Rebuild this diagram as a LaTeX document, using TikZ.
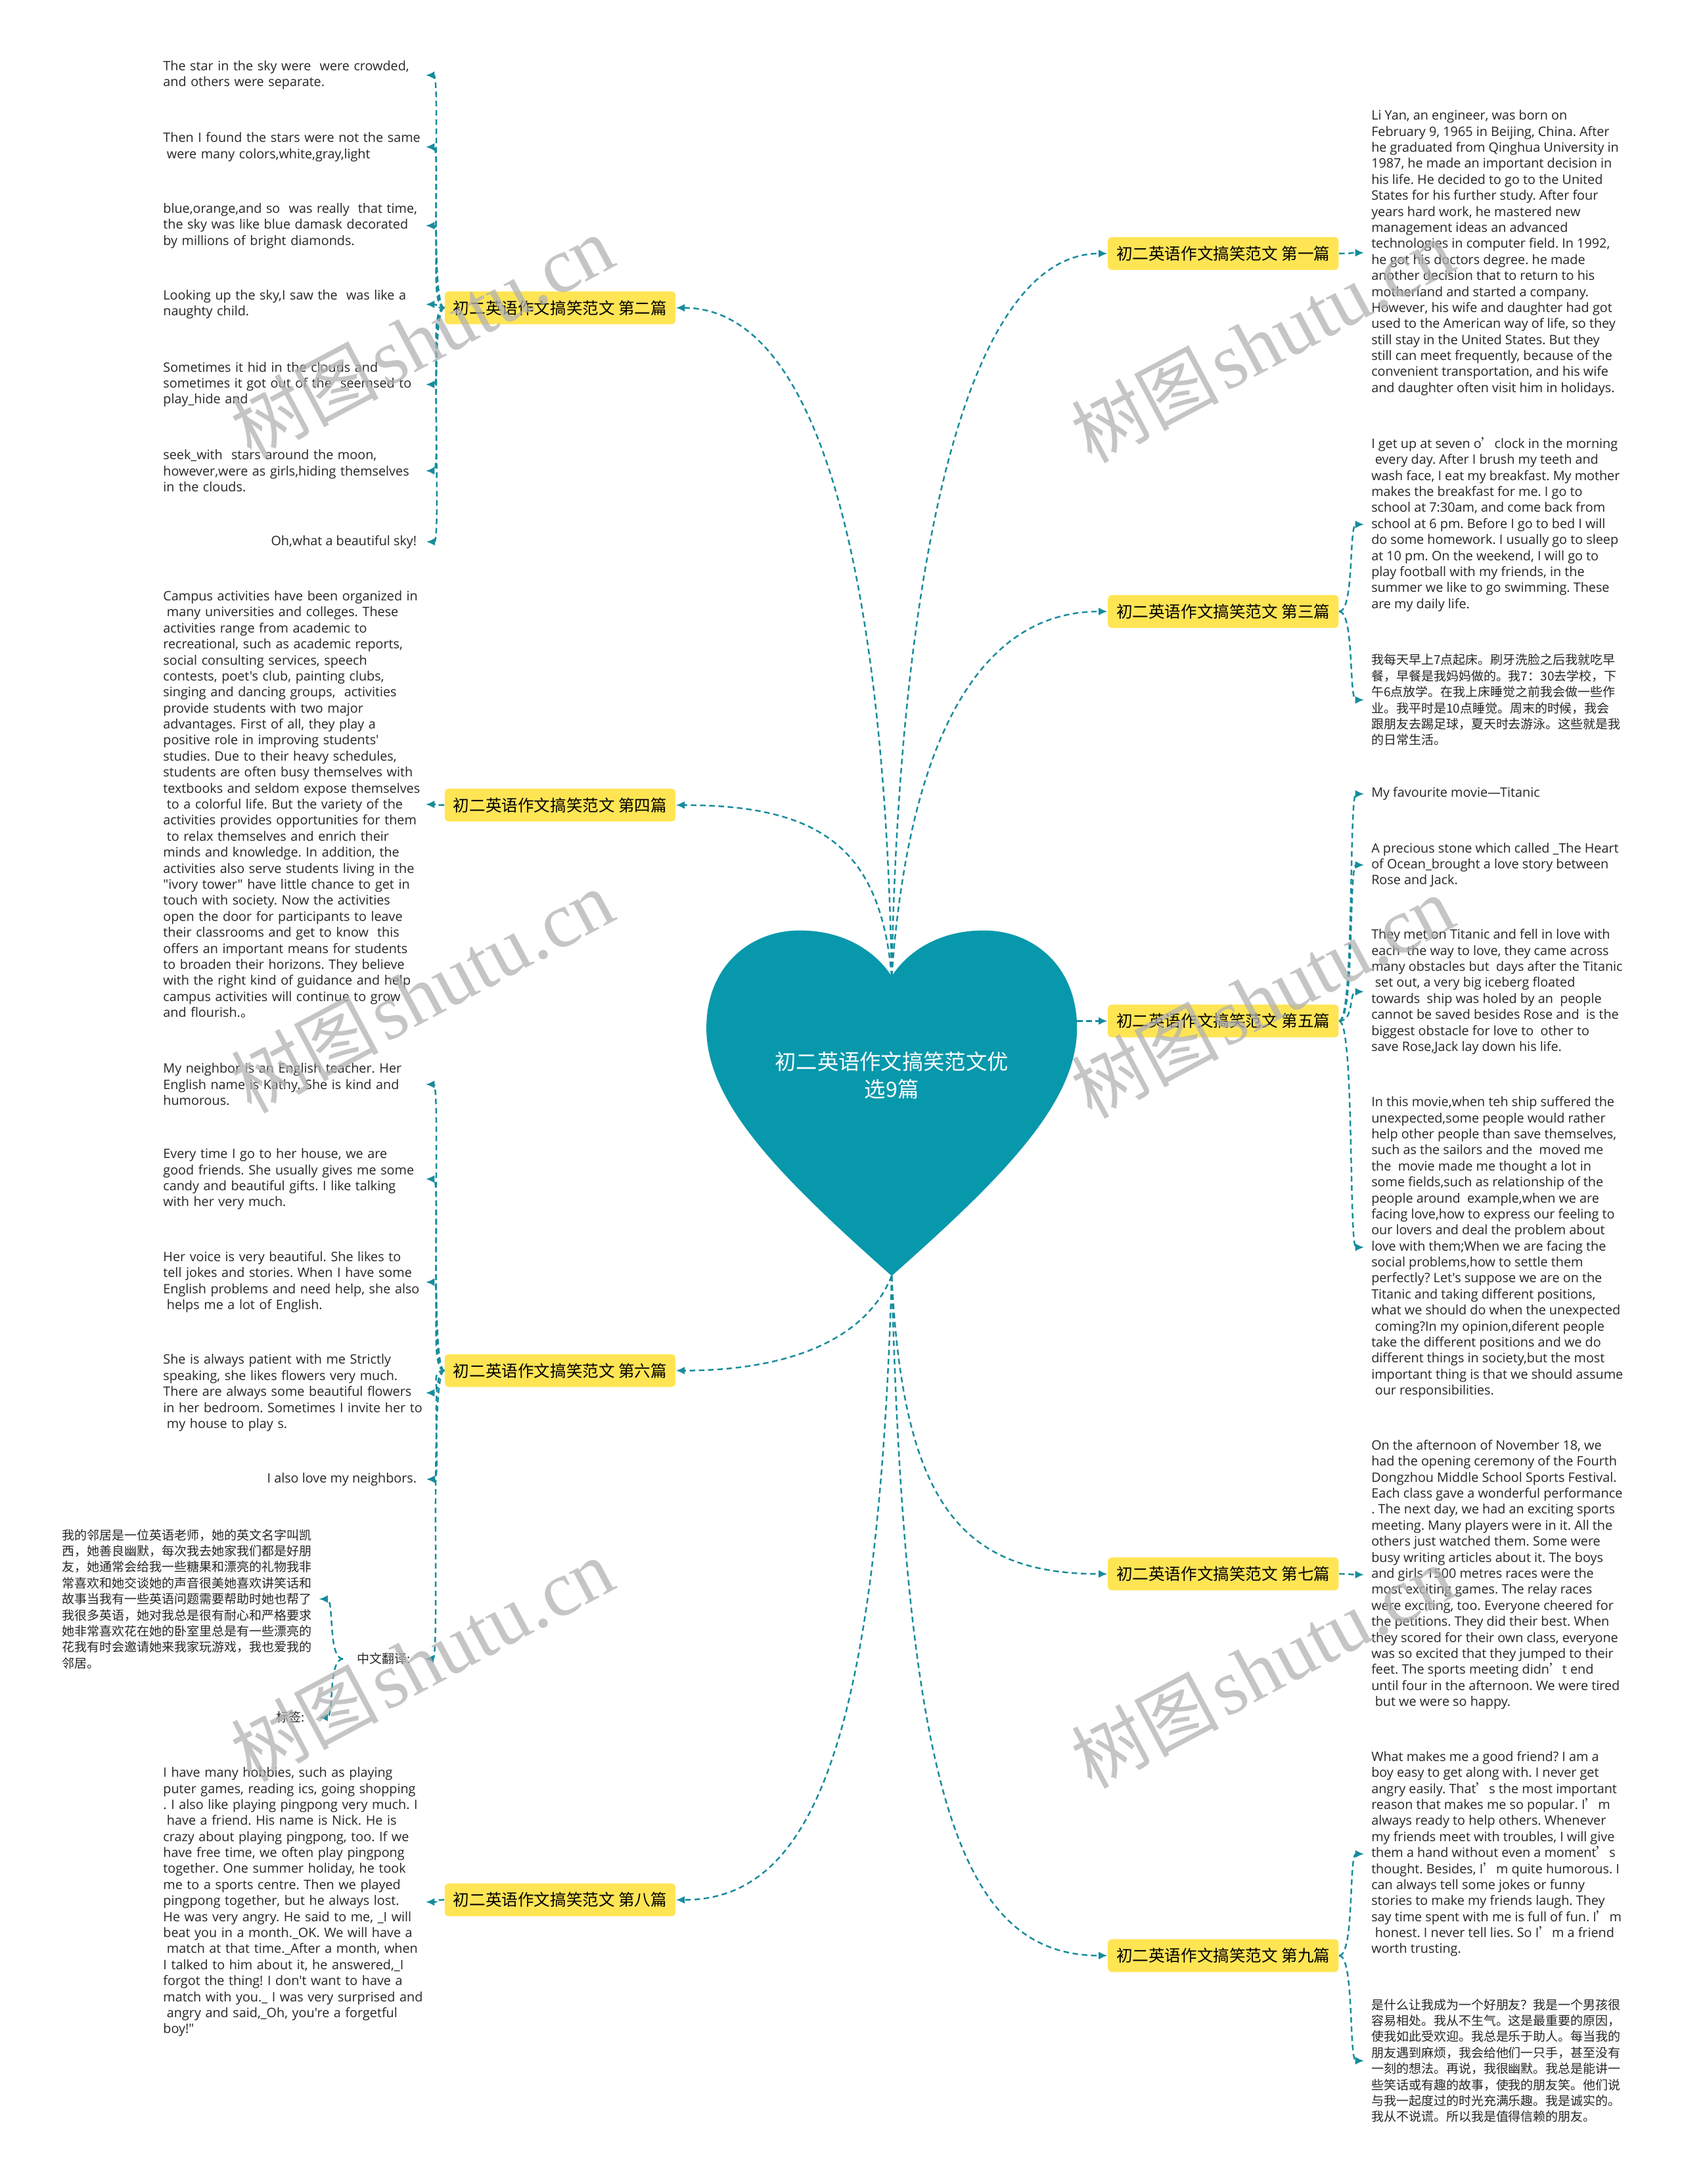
\documentclass[tikz,border=0pt]{standalone}
\usepackage{fontspec}
\setmainfont{Noto Sans CJK SC}
\newfontfamily\en{Open Sans}
\newfontfamily\cjk{Noto Sans CJK SC}
\newfontfamily\wmf{Liberation Serif}
\usetikzlibrary{arrows.meta}
\definecolor{heartc}{RGB}{7,152,172}
\definecolor{lc}{RGB}{22,140,156}
\definecolor{yel}{RGB}{255,229,84}
\newcommand\ls{\hspace*{0.28em}}
\newcommand\apo{{\cjk ’}}
\begin{document}
\frenchspacing
\begin{tikzpicture}[x=0.02121cm, y=-0.02121cm,
  conn/.style={draw=lc, line width=0.7pt, dash pattern=on 2.4pt off 1.6pt, -{Latex[length=3.8pt,width=3.4pt]}},
  branch/.style={fill=yel, rounded corners=1.6pt, font=\fontsize{7pt}{8pt}\selectfont, inner xsep=0.13cm, minimum height=0.5cm, text=black},
  enR/.style={font=\en\fontsize{5.63pt}{6.94pt}\selectfont\frenchspacing, align=left, inner xsep=3pt, inner ysep=0pt, anchor=west, text=black!85},
  enL/.style={enR, anchor=east},
  enLw/.style={enR, anchor=east, text width=3.99cm, inner xsep=0pt},
  zhL/.style={font=\cjk\fontsize{5.4pt}{6.94pt}\selectfont, align=left, inner xsep=3pt, inner ysep=0pt, anchor=east, text=black!85},
  zhR/.style={zhL, anchor=west},
  wm/.style={rotate=28, text=black!30, opacity=0.75, inner sep=0pt}]
\useasboundingbox[fill=white] (0,0) rectangle (1207,1568);

% heart anchor points
\coordinate (ht) at (640,701);
\coordinate (hb) at (640,916);
\coordinate (hr) at (773,733);

% branches
\node[branch] (b1) at (878,182) {初二英语作文搞笑范文 第一篇};
\node[branch] (b2) at (402,221) {初二英语作文搞笑范文 第二篇};
\node[branch] (b3) at (878,439) {初二英语作文搞笑范文 第三篇};
\node[branch] (b4) at (402,578) {初二英语作文搞笑范文 第四篇};
\node[branch] (b5) at (878,733) {初二英语作文搞笑范文 第五篇};
\node[branch] (b6) at (402,984) {初二英语作文搞笑范文 第六篇};
\node[branch] (b7) at (878,1130) {初二英语作文搞笑范文 第七篇};
\node[branch] (b8) at (402,1364) {初二英语作文搞笑范文 第八篇};
\node[branch] (b9) at (878,1404) {初二英语作文搞笑范文 第九篇};

% heart to branches
\draw[conn] (ht) .. controls (645,420) and (690,182) .. (b1.west);
\draw[conn] (ht) .. controls (635,420) and (590,221) .. (b2.east);
\draw[conn] (ht) .. controls (650,560) and (690,439) .. (b3.west);
\draw[conn] (ht) .. controls (632,610) and (590,578) .. (b4.east);
\draw[conn] (hr) -- (b5.west);
\draw[conn] (hb) .. controls (620,965) and (560,984) .. (b6.east);
\draw[conn] (hb) .. controls (648,1080) and (690,1130) .. (b7.west);
\draw[conn] (hb) .. controls (630,1260) and (580,1364) .. (b8.east);
\draw[conn] (hb) .. controls (650,1290) and (690,1404) .. (b9.west);

% heart
\fill[heartc] (640,916) .. controls (560,845) and (507,792) .. (507,738)
 .. controls (507,694) and (538,668) .. (574,668)
 .. controls (608,668) and (630,685) .. (640,701)
 .. controls (650,685) and (672,668) .. (706,668)
 .. controls (742,668) and (773,694) .. (773,738)
 .. controls (773,792) and (720,845) .. (640,916) -- cycle;
\node[text=white, align=center, font=\fontsize{9.2pt}{12pt}\selectfont] (title) at (640,772) {初二英语作文搞笑范文优\\选9篇};

% ---------- right leaves ----------
\node[enR] (r1) at (979,181.5) {Li Yan, an engineer, was born on\\
February 9, 1965 in Beijing, China. After\\
he graduated from Qinghua University in\\
1987, he made an important decision in\\
his life. He decided to go to the United\\
States for his further study. After four\\
years hard work, he mastered new\\
management ideas an advanced\\
technologies in computer field. In 1992,\\
he got his doctors degree. he made\\
another decision that to return to his\\
motherland and started a company.\\
However, his wife and daughter had got\\
used to the American way of life, so they\\
still stay in the United States. But they\\
still can meet frequently, because of the\\
convenient transportation, and his wife\\
and daughter often visit him in holidays.};

\node[enR] (r3a) at (979,376.5) {I get up at seven o\apo clock in the morning\\
\ls every day. After I brush my teeth and\\
wash face, I eat my breakfast. My mother\\
makes the breakfast for me. I go to\\
school at 7:30am, and come back from\\
school at 6 pm. Before I go to bed I will\\
do some homework. I usually go to sleep\\
at 10 pm. On the weekend, I will go to\\
play football with my friends, in the\\
summer we like to go swimming. These\\
are my daily life.};

\node[zhR] (r3b) at (979,502.5) {我每天早上7点起床。刷牙洗脸之后我就吃早\\
餐，早餐是我妈妈做的。我7：30去学校，下\\
午6点放学。在我上床睡觉之前我会做一些作\\
业。我平时是10点睡觉。周末的时候，我会\\
跟朋友去踢足球，夏天时去游泳。这些就是我\\
的日常生活。};

\node[enR] (r5a) at (979,570) {My favourite movie—Titanic};

\node[enR] (r5b) at (979,621) {A precious stone which called \_The Heart\\
of Ocean\_brought a love story between\\
Rose and Jack.};

\node[enR] (r5c) at (979,712) {They met on Titanic and fell in love with\\
each\ \ the way to love, they came across\\
many obstacles but\ \ days after the Titanic\\
\ls set out, a very big iceberg floated\\
towards\ \ ship was holed by an\ \ people\\
cannot be saved besides Rose and\ \ is the\\
biggest obstacle for love to\ \ other to\\
save Rose,Jack lay down his life.};

\node[enR] (r5d) at (979,895.5) {In this movie,when teh ship suffered the\\
unexpected,some people would rather\\
help other people than save themselves,\\
such as the sailors and the\ \ moved me\\
the\ \ movie made me thought a lot in\\
some fields,such as relationship of the\\
people around\ \ example,when we are\\
facing love,how to express our feeling to\\
our lovers and deal the problem about\\
love with them;When we are facing the\\
social problems,how to settle them\\
perfectly? Let's suppose we are on the\\
Titanic and taking different positions,\\
what we should do when the unexpected\\
\ls coming?In my opinion,diferent people\\
take the different positions and we do\\
different things in society,but the most\\
important thing is that we should assume\\
\ls our responsibilities.};

\node[enR] (r7) at (979,1130.5) {On the afternoon of November 18, we\\
had the opening ceremony of the Fourth\\
Dongzhou Middle School Sports Festival.\\
Each class gave a wonderful performance\\
. The next day, we had an exciting sports\\
meeting. Many players were in it. All the\\
others just watched them. Some were\\
busy writing articles about it. The boys\\
and girls 1500 metres races were the\\
most exciting games. The relay races\\
were exciting, too. Everyone cheered for\\
the petitions. They did their best. When\\
they scored for their own class, everyone\\
was so excited that they jumped to their\\
feet. The sports meeting didn\apo t end\\
until four in the afternoon. We were tired\\
\ls but we were so happy.};

\node[enR] (r9a) at (979,1331) {What makes me a good friend? I am a\\
boy easy to get along with. I never get\\
angry easily. That\apo s the most important\\
reason that makes me so popular. I\apo m\\
always ready to help others. Whenever\\
my friends meet with troubles, I will give\\
them a hand without even a moment\apo s\\
thought. Besides, I\apo m quite humorous. I\\
can always tell some jokes or funny\\
stories to make my friends laugh. They\\
say time spent with me is full of fun. I\apo m\\
\ls honest. I never tell lies. So I\apo m a friend\\
worth trusting.};

\node[zhR] (r9b) at (979,1479.5) {是什么让我成为一个好朋友？我是一个男孩很\\
容易相处。我从不生气。这是最重要的原因，\\
使我如此受欢迎。我总是乐于助人。每当我的\\
朋友遇到麻烦，我会给他们一只手，甚至没有\\
一刻的想法。再说，我很幽默。我总是能讲一\\
些笑话或有趣的故事，使我的朋友笑。他们说\\
与我一起度过的时光充满乐趣。我是诚实的。\\
我从不说谎。所以我是值得信赖的朋友。};

% ---------- left leaves ----------
\node[enLw] (l2a) at (305.6,54) {The star in the sky were\ \ were crowded,\\
and others were separate.};
\node[enLw] (l2b) at (305.6,105.5) {Then I found the stars were not the same\\
\ls were many colors,white,gray,light};
\node[enLw] (l2c) at (305.6,162) {blue,orange,and so\ \ was really\ \ that time,\\
the sky was like blue damask decorated\\
by millions of bright diamonds.};
\node[enLw] (l2d) at (305.6,218.5) {Looking up the sky,I saw the\ \ was like a\\
naughty child.};
\node[enLw] (l2e) at (305.6,276) {Sometimes it hid in the clouds and\\
sometimes it got out of the\ \ seemsed to\\
play\_hide and};
\node[enLw] (l2f) at (305.6,338) {seek\_with\ \ stars around the moon,\\
however,were as girls,hiding themselves\\
in the clouds.};
\node[enL, inner xsep=4pt] (l2g) at (306,389) {Oh,what a beautiful sky!};

\node[enLw] (l4) at (305.6,577.5) {Campus activities have been organized in\\
\ls many universities and colleges. These\\
activities range from academic to\\
recreational, such as academic reports,\\
social consulting services, speech\\
contests, poet's club, painting clubs,\\
singing and dancing groups,\ \ activities\\
provide students with two major\\
advantages. First of all, they play a\\
positive role in improving students'\\
studies. Due to their heavy schedules,\\
students are often busy themselves with\\
textbooks and seldom expose themselves\\
\ls to a colorful life. But the variety of the\\
activities provides opportunities for them\\
\ls to relax themselves and enrich their\\
minds and knowledge. In addition, the\\
activities also serve students living in the\\
"ivory tower" have little chance to get in\\
touch with society. Now the activities\\
open the door for participants to leave\\
their classrooms and get to know\ \ this\\
offers an important means for students\\
to broaden their horizons. They believe\\
with the right kind of guidance and help\\
campus activities will continue to grow\\
and flourish.{\cjk 。}};

\node[enLw] (l6a) at (305.6,778.5) {My neighbor is an English teacher. Her\\
English name is Kathy. She is kind and\\
humorous.};
\node[enLw] (l6b) at (305.6,846.5) {Every time I go to her house, we are\\
good friends. She usually gives me some\\
candy and beautiful gifts. I like talking\\
with her very much.};
\node[enLw] (l6c) at (305.6,920.5) {Her voice is very beautiful. She likes to\\
tell jokes and stories. When I have some\\
English problems and need help, she also\\
\ls helps me a lot of English.};
\node[enLw] (l6d) at (305.6,1000) {She is always patient with me Strictly\\
speaking, she likes flowers very much.\\
There are always some beautiful flowers\\
in her bedroom. Sometimes I invite her to\\
\ls my house to play s.};
\node[enL, inner xsep=4pt] (l6e) at (306,1062) {I also love my neighbors.};
\node[zhL, inner xsep=6pt] (c6) at (305,1191) {中文翻译:};
\node[zhL] (zh6) at (229,1148) {我的邻居是一位英语老师，她的英文名字叫凯\\
西，她善良幽默，每次我去她家我们都是好朋\\
友，她通常会给我一些糖果和漂亮的礼物我非\\
常喜欢和她交谈她的声音很美她喜欢讲笑话和\\
故事当我有一些英语问题需要帮助时她也帮了\\
我很多英语，她对我总是很有耐心和严格要求\\
她非常喜欢花在她的卧室里总是有一些漂亮的\\
花我有时会邀请她来我家玩游戏，我也爱我的\\
邻居。};
\node[zhL, inner xsep=6pt] (tag6) at (229,1233) {标签:};

\node[enLw] (l8) at (305.6,1365.5) {I have many hobbies, such as playing\\
puter games, reading ics, going shopping\\
. I also like playing pingpong very much. I\\
\ls have a friend. His name is Nick. He is\\
crazy about playing pingpong, too. If we\\
have free time, we often play pingpong\\
together. One summer holiday, he took\\
me to a sports centre. Then we played\\
pingpong together, but he always lost.\\
He was very angry. He said to me, \_I will\\
beat you in a month.\_OK. We will have a\\
\ls match at that time.\_After a month, when\\
I talked to him about it, he answered,\_I\\
forgot the thing! I don't want to have a\\
match with you.\_ I was very surprised and\\
\ls angry and said,\_Oh, you're a forgetful\\
boy!"};

% ---------- branch to leaf connectors ----------
\foreach \t in {r1} {\draw[conn] (b1.east) .. controls +(11,0) and +(-11,0) .. (\t.west);}
\foreach \t in {r3a,r3b} {\draw[conn] (b3.east) .. controls +(11,0) and +(-11,0) .. (\t.west);}
\foreach \t in {r5a,r5b,r5c,r5d} {\draw[conn] (b5.east) .. controls +(11,0) and +(-11,0) .. (\t.west);}
\foreach \t in {r7} {\draw[conn] (b7.east) .. controls +(11,0) and +(-11,0) .. (\t.west);}
\foreach \t in {r9a,r9b} {\draw[conn] (b9.east) .. controls +(11,0) and +(-11,0) .. (\t.west);}
\foreach \t in {l2a,l2b,l2c,l2d,l2e,l2f,l2g} {\draw[conn] (b2.west) .. controls +(-11,0) and +(11,0) .. (\t.east);}
\foreach \t in {l4} {\draw[conn] (b4.west) .. controls +(-11,0) and +(11,0) .. (\t.east);}
\foreach \t in {l6a,l6b,l6c,l6d,l6e,c6} {\draw[conn] (b6.west) .. controls +(-11,0) and +(11,0) .. (\t.east);}
\foreach \t in {zh6,tag6} {\draw[conn] (c6.west) .. controls +(-11,0) and +(11,0) .. (\t.east);}
\foreach \t in {l8} {\draw[conn] (b8.west) .. controls +(-11,0) and +(11,0) .. (\t.east);}

% ---------- watermarks ----------
\foreach \p [count=\i] in {(303,242),(906,245),(303,712),(906,716),(303,1192),(906,1197)}
  {\node[wm] (wm\i) at \p {{\cjk\fontsize{32pt}{32pt}\selectfont 树图} {\wmf\fontsize{34pt}{34pt}\selectfont shutu.cn}};}
\end{tikzpicture}
\end{document}
